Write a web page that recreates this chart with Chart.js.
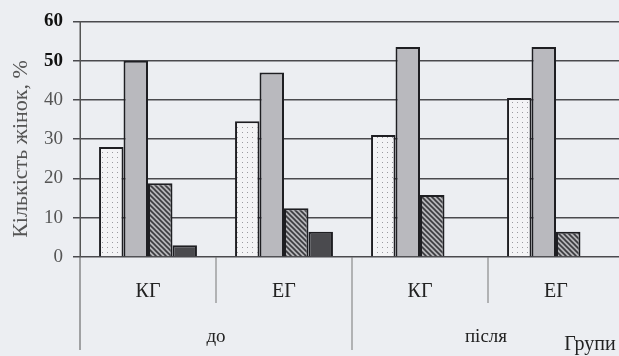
<!DOCTYPE html>
<html lang="uk">
<head>
    <meta charset="UTF-8">
    <title>Кількість жінок, %</title>
    <script src="https://cdn.jsdelivr.net/npm/chart.js"></script>
    <style>
        body {
            margin: 0;
            padding: 0;
            background: #eceef2;
            overflow: hidden;
        }
        .wrap {
            width: 624px;
            height: 356px;
        }
    </style>
</head>
<body>
    <div class="wrap">
        <canvas id="womenChart"></canvas>
    </div>

    <script>
        const groups = ['КГ', 'ЕГ', 'КГ', 'ЕГ'];
        const periods = ['до', 'після'];
        const yTicks = [0, 10, 20, 30, 40, 50, 60];
        const yTitle = 'Кількість жінок, %';

        const series1 = [28, 34.6, 31.1, 40.5];
        const series2 = [50, 47, 53.5, 53.5];
        const series3 = [18.8, 12.4, 15.8, 6.4];
        const series4 = [3, 6.4, 0, 0];

        function makeDots() {
            const c = document.createElement('canvas');
            c.width = 5; c.height = 5;
            const g = c.getContext('2d');
            g.fillStyle = '#f3f3f5';
            g.fillRect(0, 0, 5, 5);
            g.fillStyle = '#9a9aa0';
            g.fillRect(2, 2, 1, 1);
            return g.createPattern(c, 'repeat');
        }

        function makeHatch() {
            const c = document.createElement('canvas');
            c.width = 5; c.height = 5;
            const g = c.getContext('2d');
            g.fillStyle = '#b4b4b8';
            g.fillRect(0, 0, 5, 5);
            g.strokeStyle = '#3a3a3e';
            g.lineWidth = 1.6;
            g.beginPath();
            g.moveTo(-1, -1); g.lineTo(6, 6);
            g.moveTo(-1, 4); g.lineTo(1, 6);
            g.moveTo(4, -1); g.lineTo(6, 1);
            g.stroke();
            return g.createPattern(c, 'repeat');
        }

        const serif = "'Liberation Serif', 'DejaVu Serif', serif";
        const isTop = c => !!(c.tick && c.tick.value >= 50);

        // dividers under the axis, second row of labels, axis title
        const groupAxis = {
            id: 'groupAxis',
            afterDraw(chart) {
                const x = chart.scales.x;
                const area = chart.chartArea;
                const c = chart.ctx;
                const half = (x.getPixelForValue(1) - x.getPixelForValue(0)) / 2;
                const edge = i => x.getPixelForValue(i) - half;
                c.save();
                c.strokeStyle = '#555';
                c.lineWidth = 1;
                c.beginPath();
                c.moveTo(edge(0), area.top);
                c.lineTo(edge(0), 350);
                c.stroke();
                c.strokeStyle = '#777';
                c.beginPath();
                c.moveTo(edge(2), area.bottom);
                c.lineTo(edge(2), 350);
                c.stroke();
                [1, 3].forEach(i => {
                    c.beginPath();
                    c.moveTo(edge(i), area.bottom);
                    c.lineTo(edge(i), 303);
                    c.stroke();
                });
                c.fillStyle = '#222';
                c.font = '19px ' + serif;
                c.textAlign = 'center';
                c.textBaseline = 'middle';
                periods.forEach((p, k) => {
                    const mid = (edge(k * 2) + edge(k * 2 + 2)) / 2;
                    c.fillText(p, mid - (k ? 2 : 0), 337);
                });
                c.font = '20px ' + serif;
                c.fillText('Групи', 590, 345);

                c.translate(21, 149);
                c.rotate(-Math.PI / 2);
                c.fillStyle = '#555';
                c.font = '22px ' + serif;
                c.fillText(yTitle, 0, 0);
                c.restore();
            }
        };

        const ctx = document.getElementById('womenChart').getContext('2d');
        new Chart(ctx, {
            type: 'bar',
            data: {
                labels: groups,
                datasets: [
                    { data: series1, backgroundColor: makeDots() },
                    { data: series2, backgroundColor: '#b9b9be' },
                    { data: series3, backgroundColor: makeHatch() },
                    { data: series4, backgroundColor: '#4a4a4e' }
                ].map(d => Object.assign(d, {
                    borderColor: '#1e1e22',
                    borderWidth: c => (c.raw ? 2 : 0),
                    borderSkipped: 'bottom'
                }))
            },
            options: {
                responsive: true,
                maintainAspectRatio: false,
                animation: false,
                layout: { padding: { top: 14, left: 0, right: 0, bottom: 0 } },
                plugins: {
                    legend: { display: false },
                    tooltip: { enabled: false }
                },
                datasets: {
                    bar: { categoryPercentage: 0.72, barPercentage: 1 }
                },
                scales: {
                    x: {
                        grid: { display: false, drawTicks: false },
                        border: { display: false },
                        ticks: {
                            color: '#222',
                            padding: 23,
                            font: { family: serif, size: 20 }
                        },
                        afterFit: s => { s.height = 99; }
                    },
                    y: {
                        min: 0,
                        max: 60,
                        afterBuildTicks: s => { s.ticks = yTicks.map(v => ({ value: v })); },
                        grid: { color: '#4a4a4e', lineWidth: 1.5, tickLength: 7 },
                        border: { color: '#555', width: 1 },
                        ticks: {
                            color: c => (isTop(c) ? '#111' : '#555'),
                            padding: 10,
                            font: c => ({ family: serif, size: 19, weight: isTop(c) ? 'bold' : 'normal' })
                        },
                        afterFit: s => { s.width = 80; }
                    }
                }
            },
            plugins: [groupAxis]
        });
    </script>
</body>
</html>
